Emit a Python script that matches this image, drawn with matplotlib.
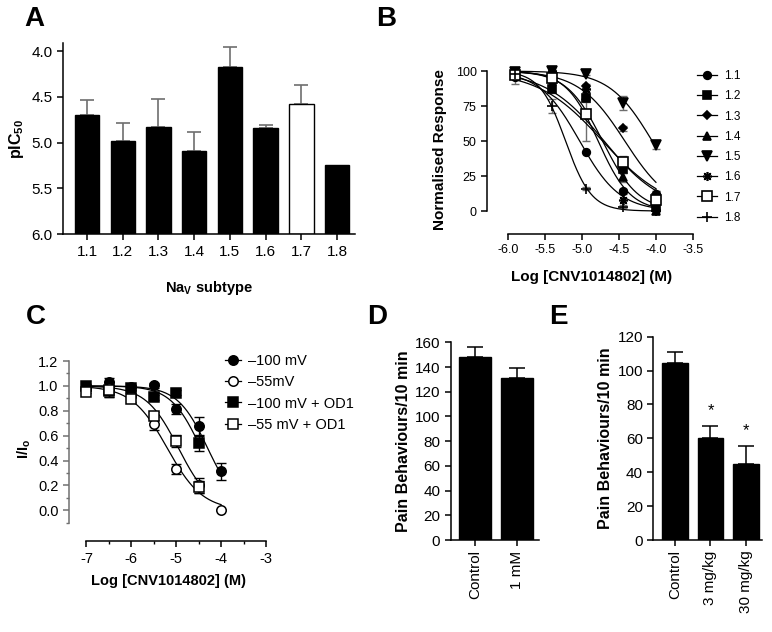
import numpy as np
import matplotlib
matplotlib.use("Agg")
import matplotlib.pyplot as plt

plt.rcParams['font.family'] = ['Liberation Sans', 'DejaVu Sans']
plt.rcParams['mathtext.fontset'] = 'custom'
plt.rcParams['mathtext.rm'] = 'Liberation Sans'
plt.rcParams['mathtext.bf'] = 'Liberation Sans:bold'
plt.rcParams['axes.linewidth'] = 1.1
plt.rcParams['xtick.major.width'] = 1.1
plt.rcParams['ytick.major.width'] = 1.1
plt.rcParams['xtick.minor.width'] = 1.0
plt.rcParams['ytick.minor.width'] = 1.0

W, H = 772, 632

# ---- A: pIC50 per subtype
subtypes = ['1.1', '1.2', '1.3', '1.4', '1.5', '1.6', '1.7', '1.8']
pic50 = [4.70, 4.985, 4.825, 5.087, 4.175, 4.836, 4.582, 5.247]
pic50_err = [0.165, 0.205, 0.30, 0.205, 0.22, 0.025, 0.21, 0.0]
bar_colors = ['black'] * 6 + ['white', 'black']

# ---- B: concentration-response per subtype
log_conc_b = [-5.9, -5.4, -4.95, -4.45, -4.0]
resp_b = {
    '1.1': [96, 93, 42, 14, 12],
    '1.2': [97, 87, 81, 30, 3],
    '1.3': [98, 95, 89, 59, 12],
    '1.4': [98, 97, 82, 24, 0],
    '1.5': [99, 100, 98, 77, 47],
    '1.6': [98, 100, 87, 8, 1],
    '1.7': [97, 95, 69, 35, 8],
    '1.8': [98, 75, 16, 3, 0],
}
err_b = {
    '1.1': [5, 0, 0, 2, 2],
    '1.2': [2, 3, 3, 3, 2],
    '1.3': [1, 2, 2, 2, 2],
    '1.4': [1, 1, 3, 3, 1],
    '1.5': [1, 1, 1, 5, 3],
    '1.6': [1, 1, 2, 5, 1],
    '1.7': [2, 2, 19, 4, 3],
    '1.8': [1, 5, 1, 1, 0],
}
# fitted curve parameters (logIC50, Hill slope)
fit_b = {
    '1.1': (-5.03, 1.6),
    '1.2': (-4.72, 1.0),
    '1.3': (-4.42, 1.4),
    '1.4': (-4.72, 1.8),
    '1.5': (-4.05, 1.5),
    '1.6': (-4.78, 2.0),
    '1.7': (-4.70, 1.1),
    '1.8': (-5.22, 2.5),
}
marker_b = {
    '1.1': ('o', 'black', 5.5), '1.2': ('s', 'black', 5.5), '1.3': ('D', 'black', 3.8),
    '1.4': ('^', 'black', 5.5), '1.5': ('v', 'black', 6.5), '1.6': ((8, 2, 0), 'black', 6.5),
    '1.7': ('s', 'white', 6.5), '1.8': ('+', 'black', 6.5),
}

# ---- C: holding potential / OD1
log_conc_c = [-7, -6.5, -6, -5.5, -5, -4.5, -4]
series_c = ['\u2013100 mV', '\u201355mV', '\u2013100 mV + OD1', '\u201355 mV + OD1']
resp_c = [
    [1.00, 1.03, 0.99, 1.005, 0.815, 0.678, 0.314],
    [0.98, 0.985, 0.93, 0.697, 0.333, 0.20, 0.0],
    [1.00, 0.958, 0.985, 0.91, 0.945, 0.538, None],
    [0.953, 0.97, 0.894, 0.76, 0.557, 0.187, None],
]
err_c = [
    [0.01, 0.03, 0.02, 0.02, 0.04, 0.07, 0.07],
    [0.01, 0.02, 0.03, 0.05, 0.04, 0.06, 0.0],
    [0.01, 0.05, 0.02, 0.02, 0.02, 0.06, 0.0],
    [0.01, 0.06, 0.02, 0.03, 0.05, 0.05, 0.0],
]
fit_c = [(-4.30, 1.3, -4.0), (-5.20, 1.1, -4.0), (-4.45, 1.3, -4.5), (-4.95, 1.2, -4.5)]
marker_c = [('o', 'black'), ('o', 'white'), ('s', 'black'), ('s', 'white')]

# ---- D
groups_d = ['Control', '1 mM']
pain_d = [147.9, 131.1]
pain_d_err = [8.3, 8.4]

# ---- E
groups_e = ['Control', '3 mg/kg', '30 mg/kg']
pain_e = [104.7, 60.0, 44.9]
pain_e_err = [6.1, 7.5, 10.8]
signif_e = ['', '*', '*']


def hill(x, logic50, slope, top):
    return top / (1 + 10 ** (slope * (x - logic50)))


fig = plt.figure(figsize=(W / 100, H / 100), dpi=100)


def px_axes(l, t, r, b):
    return fig.add_axes([l / W, 1 - b / H, (r - l) / W, (b - t) / H])


def px(x, y):
    return (x / W, 1 - y / H)


def letter(x, y, s):
    fig.text(x / W, 1 - y / H, s, fontsize=20, fontweight='bold', va='top', ha='left')


def clean(ax):
    ax.spines['top'].set_visible(False)
    ax.spines['right'].set_visible(False)
    ax.tick_params(direction='out', length=4)


# ===== A =====
axA = px_axes(63, 43, 355, 234)
clean(axA)
xa = np.arange(len(subtypes))
axA.bar(xa, [6.0 - v for v in pic50], bottom=pic50, width=0.68,
        color=bar_colors, edgecolor='black', linewidth=1.0, zorder=2)
for i in range(len(subtypes)):
    if pic50_err[i] > 0:
        axA.errorbar(xa[i], pic50[i], yerr=[[pic50_err[i]], [0]], fmt='none',
                     ecolor='#6e6e6e', elinewidth=1.2, capsize=5, capthick=1.2, zorder=1)
axA.set_ylim(6.0, 3.91)
axA.set_xlim(-0.67, 7.5)
axA.set_yticks([4.0, 4.5, 5.0, 5.5, 6.0])
axA.set_yticklabels(['4.0', '4.5', '5.0', '5.5', '6.0'])
axA.set_xticks(xa)
axA.set_xticklabels(subtypes)
axA.tick_params(axis='x', length=4, pad=4)
axA.tick_params(labelsize=11)
axA.set_ylabel(r'pIC$_\mathbf{50}$', fontsize=11.5, fontweight='bold', labelpad=4)
axA.set_xlabel(r'Na$_\mathbf{V}$ subtype', fontsize=10.5, fontweight='bold', labelpad=14)
letter(24, 6, 'A')

# ===== B =====
axB = px_axes(487, 65.4, 696.7, 234)
clean(axB)
xs = np.linspace(-5.95, -4.0, 200)
for k in subtypes:
    li, sl = fit_b[k]
    axB.plot(xs, hill(xs, li, sl, 100), color='black', lw=0.9, zorder=2)
for k in subtypes:
    m, fc, ms = marker_b[k]
    axB.errorbar(log_conc_b, resp_b[k], yerr=err_b[k], fmt='none', ecolor='#6e6e6e',
                 elinewidth=1.0, capsize=3, capthick=1.0, zorder=1, clip_on=False)
    axB.plot(log_conc_b, resp_b[k], linestyle='none', marker=m, markerfacecolor=fc,
             markeredgecolor='black', markersize=ms, markeredgewidth=1.2,
             zorder=3, clip_on=False, label=k)
axB.set_xlim(-6.28, -3.45)
axB.set_ylim(-16.4, 104)
axB.spines['left'].set_bounds(0, 100)
axB.spines['bottom'].set_bounds(-6.0, -3.5)
axB.set_yticks([0, 25, 50, 75, 100])
axB.set_xticks([-6.0, -5.5, -5.0, -4.5, -4.0, -3.5])
axB.set_xticklabels(['-6.0', '-5.5', '-5.0', '-4.5', '-4.0', '-3.5'])
axB.tick_params(labelsize=9, length=4)
axB.set_ylabel('Normalised Response', fontsize=11, fontweight='bold', labelpad=6)
axB.set_xlabel('Log [CNV1014802] (M)', fontsize=11, fontweight='bold', labelpad=10)
handles = [plt.Line2D([], [], color='black', lw=0.9, marker=marker_b[k][0],
                      markerfacecolor=marker_b[k][1], markeredgecolor='black',
                      markersize=marker_b[k][2], markeredgewidth=1.2) for k in subtypes]
fig.legend(handles, subtypes, loc='upper left', bbox_to_anchor=px(697, 70),
           frameon=False, fontsize=8.5, handlelength=1.7, labelspacing=0.7,
           handletextpad=0.6, borderpad=0, borderaxespad=0)
letter(376, 6, 'B')

# ===== C =====
axC = px_axes(69, 357.3, 268.2, 541.3)
clean(axC)
for j in range(len(series_c)):
    li, sl, xend = fit_c[j]
    xc = np.linspace(-7.0, xend, 200)
    axC.plot(xc, hill(xc, li, sl, 1.0), color='black', lw=0.9, zorder=2)
handles_c = []
for j in range(len(series_c)):
    xv = [x for x, y in zip(log_conc_c, resp_c[j]) if y is not None]
    yv = [y for y in resp_c[j] if y is not None]
    ev = err_c[j][:len(yv)]
    axC.errorbar(xv, yv, yerr=ev, fmt='none', ecolor='black', elinewidth=1.0,
                 capsize=3.5, capthick=1.0, zorder=1, clip_on=False)
    m, fc = marker_c[j]
    axC.plot(xv, yv, linestyle='none', marker=m, markerfacecolor=fc, markeredgecolor='black',
             markersize=6.8, markeredgewidth=1.1, zorder=3, clip_on=False)
    handles_c.append(plt.Line2D([], [], color='black', lw=0.9, marker=m, markerfacecolor=fc,
                                markeredgecolor='black', markersize=6.8, markeredgewidth=1.1))
axC.set_xlim(-7.39, -2.95)
axC.set_ylim(-0.249, 1.23)
axC.spines['left'].set_bounds(-0.1, 1.2)
axC.spines['left'].set_color('#707070')
axC.spines['bottom'].set_bounds(-7, -3)
axC.set_yticks([0.0, 0.2, 0.4, 0.6, 0.8, 1.0, 1.2])
axC.set_yticklabels(['0.0', '0.2', '0.4', '0.6', '0.8', '1.0', '1.2'])
axC.set_yticks(np.arange(-0.1, 1.2, 0.2), minor=True)
axC.set_xticks([-7, -6, -5, -4, -3])
axC.set_xticklabels(['-7', '-6', '-5', '-4', '-3'])
axC.set_xticks([-6.5, -5.5, -4.5, -3.5], minor=True)
axC.tick_params(labelsize=10.5, length=4)
axC.tick_params(which='minor', length=2.5, direction='out')
axC.tick_params(axis='y', which='both', color='#707070')
axC.set_ylabel(r'I/I$_\mathbf{o}$', fontsize=10.5, fontweight='bold', labelpad=4)
axC.set_xlabel('Log [CNV1014802] (M)', fontsize=10.5, fontweight='bold', labelpad=6)
fig.legend(handles_c, series_c, loc='upper left', bbox_to_anchor=px(225, 354),
           frameon=False, fontsize=10.5, handlelength=1.1, labelspacing=0.5,
           handletextpad=0.45, borderpad=0, borderaxespad=0)
letter(26, 304, 'C')

# ===== D =====
axD = px_axes(450.7, 342.3, 539, 540)
clean(axD)
xd = np.arange(len(groups_d))
axD.bar(xd, pain_d, width=0.77, color='black', edgecolor='black', zorder=2)
axD.errorbar(xd, pain_d, yerr=[[0] * len(xd), pain_d_err], fmt='none', ecolor='black',
             elinewidth=1.1, capsize=6, capthick=1.1, zorder=1)
axD.set_xlim(-0.58, 1.52)
axD.set_ylim(0, 160)
axD.set_yticks(range(0, 161, 20))
axD.set_xticks(xd)
axD.set_xticklabels(groups_d, rotation=90)
axD.tick_params(labelsize=11)
axD.set_ylabel('Pain Behaviours/10 min', fontsize=11.5, fontweight='bold', labelpad=3)
letter(367, 304, 'D')

# ===== E =====
axE = px_axes(653.3, 336.7, 762, 540)
clean(axE)
xe = np.arange(len(groups_e))
axE.bar(xe, pain_e, width=0.72, color='black', edgecolor='black', zorder=2)
axE.errorbar(xe, pain_e, yerr=[[0] * len(xe), pain_e_err], fmt='none', ecolor='black',
             elinewidth=1.1, capsize=6, capthick=1.1, zorder=1)
for i, s in enumerate(signif_e):
    if s:
        axE.text(xe[i], pain_e[i] + pain_e_err[i] + 9, s, ha='center', va='center', fontsize=12)
axE.set_xlim(-0.61, 2.45)
axE.set_ylim(0, 120)
axE.set_yticks(range(0, 121, 20))
axE.set_xticks(xe)
axE.set_xticklabels(groups_e, rotation=90)
axE.tick_params(labelsize=11)
axE.set_ylabel('Pain Behaviours/10 min', fontsize=11.5, fontweight='bold', labelpad=3)
letter(549, 304, 'E')

fig.savefig('out.png', dpi=100)
